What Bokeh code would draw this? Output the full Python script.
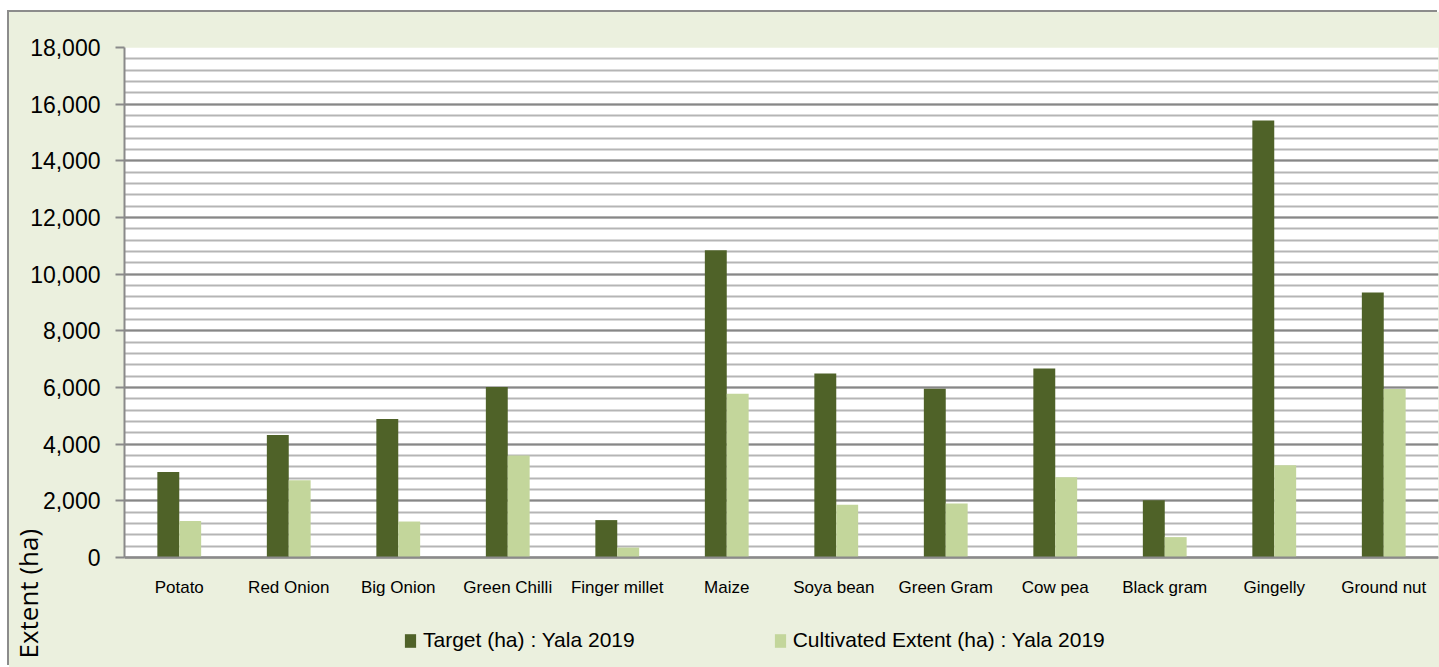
from bokeh.plotting import figure
from bokeh.models import (FactorRange, Range1d, SingleIntervalTicker, NumeralTickFormatter,
                          Title, Legend, LegendItem, ColumnDataSource, Spacer, BoxAnnotation)
from bokeh.transform import dodge
from bokeh.layouts import column, row
from bokeh.embed import file_html
from bokeh.resources import INLINE

crops = ["Potato", "Red Onion", "Big Onion", "Green Chilli", "Finger millet", "Maize",
         "Soya  bean", "Green Gram", "Cow pea", "Black gram", "Gingelly", "Ground nut"]
target = [3020, 4320, 4890, 6020, 1320, 10840, 6490, 5960, 6670, 2020, 15420, 9350]
cultivated = [1290, 2730, 1270, 3600, 350, 5780, 1860, 1910, 2830, 720, 3260, 5950]
series_names = ["Target (ha) : Yala 2019", "Cultivated Extent (ha) : Yala 2019"]
y_title = "Extent (ha)"
Y_MAX = 18000

DARK = "#4F6228"
LIGHT = "#C3D69B"
BG = "#EBF0DE"
SANS = "Liberation Sans"

FRAME_TOP = 35          # px from figure top to the 18,000 line
PLOT_H = 510            # px from 18,000 down to 0
FIG_H = 655
below_px = FIG_H - FRAME_TOP - PLOT_H   # space under the zero line (labels, legend)
y_start = -Y_MAX * below_px / PLOT_H

src = ColumnDataSource(dict(crop=crops, target=target, cultivated=cultivated))

p = figure(x_range=FactorRange(*crops, range_padding=0), y_range=Range1d(y_start, Y_MAX),
           width=1430, height=FIG_H, output_backend="svg", toolbar_location=None,
           min_border_left=115, min_border_right=1, min_border_top=FRAME_TOP,
           min_border_bottom=0)
p.background_fill_color = BG
p.border_fill_color = BG
p.outline_line_color = None
p.styles = {"box-shadow": "-2px -2px 0px 0px #8C8C8C", "background-color": BG}

# white plot area from 0 to the top of the value axis
p.add_layout(BoxAnnotation(bottom=0, top=Y_MAX, fill_color="white", fill_alpha=1,
                           line_color=None, level="image"))

r1 = p.vbar(x=dodge("crop", -0.1, range=p.x_range), top="target", width=0.2, source=src,
            fill_color=DARK, line_color=None)
r2 = p.vbar(x=dodge("crop", 0.1, range=p.x_range), top="cultivated", width=0.2, source=src,
            fill_color=LIGHT, line_color=None)

# y axis
p.yaxis.bounds = (0, Y_MAX)
p.yaxis.ticker = SingleIntervalTicker(interval=2000, num_minor_ticks=5)
p.yaxis.formatter = NumeralTickFormatter(format="0,0")
p.yaxis.axis_line_color = "#8A8A8A"
p.yaxis.axis_line_width = 2
p.yaxis.major_tick_line_color = "#8A8A8A"
p.yaxis.major_tick_line_width = 2
p.yaxis.major_tick_out = 9
p.yaxis.major_tick_in = 0
p.yaxis.minor_tick_line_color = None
p.yaxis.major_label_standoff = 15
p.yaxis.major_label_text_font = SANS
p.yaxis.major_label_text_font_size = "23px"
p.yaxis.major_label_text_color = "black"

p.ygrid.bounds = (0, Y_MAX)
p.ygrid.grid_line_color = "#878787"
p.ygrid.grid_line_width = 2
p.ygrid.minor_grid_line_color = "#B5B5B5"
p.ygrid.minor_grid_line_width = 2
p.xgrid.grid_line_color = None

# x axis pinned at zero
p.xaxis.fixed_location = 0
p.xaxis.axis_line_color = "#8A8A8A"
p.xaxis.axis_line_width = 2
p.xaxis.major_tick_line_color = None
p.xaxis.minor_tick_line_color = None
p.xaxis.major_label_standoff = 14
p.xaxis.major_label_text_font = SANS
p.xaxis.major_label_text_font_size = "17px"
p.xaxis.major_label_text_color = "black"

# axis title placed low on the left, as in the reference
p.add_layout(Title(text=y_title, align="left", vertical_align="bottom", offset=9,
                   standoff=-36, text_font="Open Sans", text_font_size="26px",
                   text_font_style="normal", text_color="black"), "left")

legend = Legend(items=[LegendItem(label=series_names[0], renderers=[r1]),
                       LegendItem(label=series_names[1], renderers=[r2])],
                orientation="horizontal", location=(279, 15),
                glyph_width=14, glyph_height=17, label_height=20,
                label_text_font=SANS, label_text_font_size="21px", label_text_color="black",
                label_standoff=6, spacing=138, padding=0, margin=0,
                border_line_color=None, background_fill_alpha=0)
p.add_layout(legend, "center")

layout = row(Spacer(width=9, height=10), column(Spacer(height=12, width=10), p))
open("out.html", "w").write(file_html(layout, INLINE))
